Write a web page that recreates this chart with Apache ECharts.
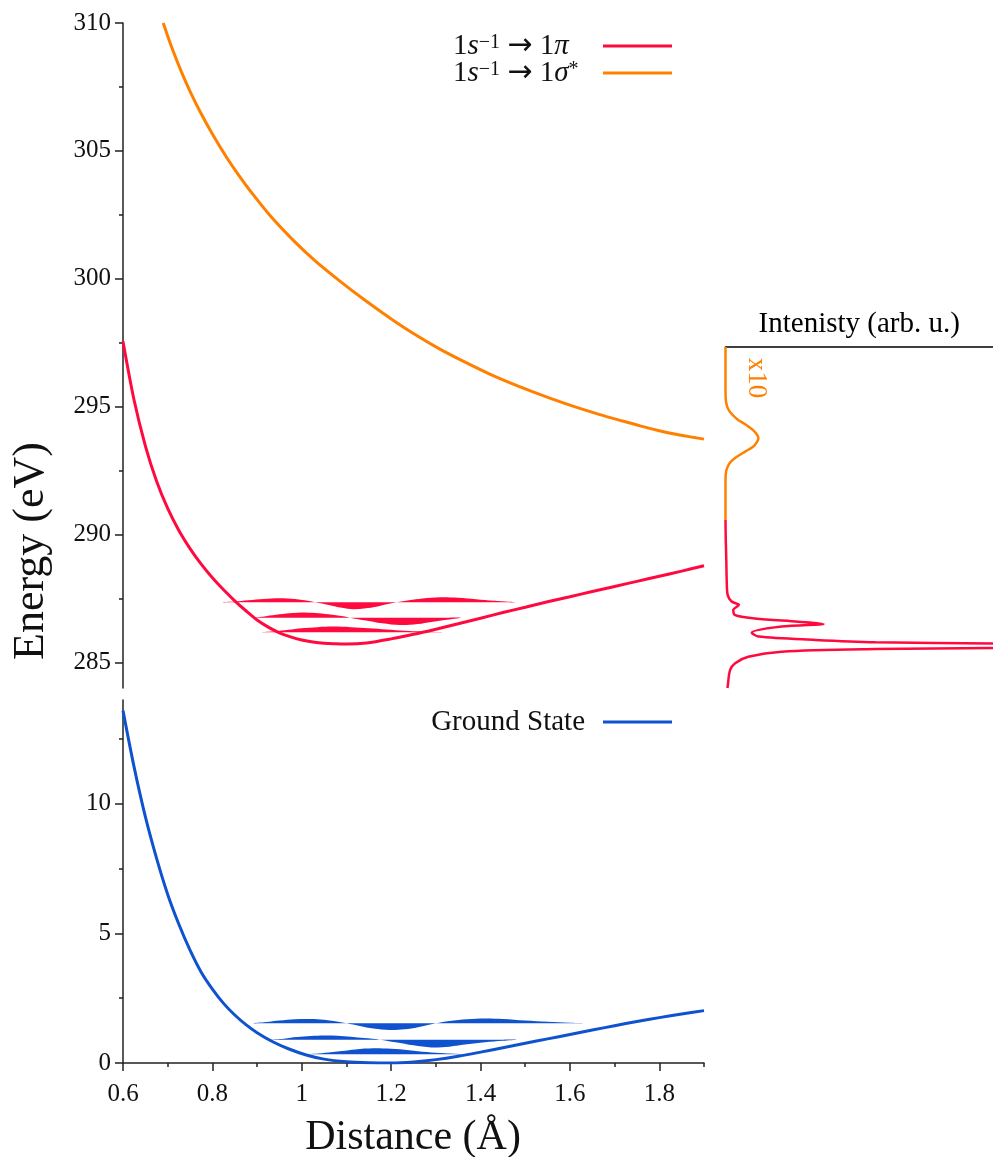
<!DOCTYPE html>
<html>
<head>
<meta charset="utf-8">
<script src="https://cdn.jsdelivr.net/npm/echarts@6/dist/echarts.min.js"></script>
<style>
html,body{margin:0;padding:0;background:#fff;}
#chart{width:993px;height:1157px;}
</style>
</head>
<body>
<div id="chart"></div>
<script>
// ---------- tick values ----------
const xTicks = [0.6, 0.8, 1.0, 1.2, 1.4, 1.6, 1.8];
const xMinorTicks = [0.7, 0.9, 1.1, 1.3, 1.5, 1.7, 1.9];
const yTopTicks = [285, 290, 295, 300, 305, 310];
const yTopMinorTicks = [287.5, 292.5, 297.5, 302.5, 307.5];
const yBotTicks = [0, 5, 10];
const yBotMinorTicks = [2.5, 7.5, 12.5];

// ---------- potential curves [distance, energy] ----------
const piCurve = [
  [0.600, 297.55], [0.625, 295.24], [0.650, 293.47], [0.675, 292.09], [0.700, 291.02],
  [0.725, 290.16], [0.750, 289.45], [0.775, 288.84], [0.800, 288.31], [0.825, 287.84],
  [0.850, 287.41], [0.875, 287.02], [0.900, 286.66], [0.925, 286.38], [0.950, 286.16],
  [0.975, 286.00], [1.000, 285.88], [1.025, 285.80], [1.050, 285.75], [1.075, 285.73],
  [1.100, 285.72], [1.145, 285.76], [1.200, 285.92], [1.250, 286.10], [1.300, 286.30],
  [1.350, 286.51], [1.400, 286.73], [1.450, 286.95], [1.500, 287.16], [1.550, 287.37],
  [1.600, 287.57], [1.650, 287.77], [1.700, 287.97], [1.750, 288.17], [1.800, 288.37],
  [1.850, 288.57], [1.900, 288.78]
];
const sigmaCurve = [
  [0.690, 310.00], [0.710, 309.00], [0.730, 308.12], [0.750, 307.33], [0.772, 306.55],
  [0.800, 305.66], [0.832, 304.74], [0.860, 304.02], [0.884, 303.45], [0.930, 302.45],
  [0.980, 301.52], [1.030, 300.70], [1.086, 299.90], [1.140, 299.18], [1.197, 298.47],
  [1.250, 297.86], [1.309, 297.25], [1.370, 296.70], [1.432, 296.18], [1.490, 295.76],
  [1.555, 295.33], [1.610, 295.00], [1.667, 294.69], [1.720, 294.43], [1.757, 294.25],
  [1.800, 294.06], [1.831, 293.94], [1.876, 293.80], [1.900, 293.73]
];
const groundCurve = [
  [0.600, 13.59], [0.625, 11.40], [0.650, 9.50], [0.675, 7.90], [0.700, 6.50],
  [0.725, 5.35], [0.750, 4.35], [0.775, 3.50], [0.800, 2.85], [0.825, 2.30],
  [0.850, 1.85], [0.875, 1.48], [0.900, 1.17], [0.935, 0.82], [0.970, 0.55],
  [1.010, 0.31], [1.050, 0.15], [1.100, 0.05], [1.150, 0.01], [1.200, 0.00],
  [1.250, 0.04], [1.300, 0.13], [1.350, 0.26], [1.400, 0.42], [1.450, 0.59],
  [1.500, 0.76], [1.550, 0.93], [1.600, 1.10], [1.650, 1.27], [1.700, 1.44],
  [1.750, 1.60], [1.800, 1.75], [1.850, 1.89], [1.900, 2.02]
];

// ---------- vibrational levels (baseline energies) ----------
const groundLevels = [0.335, 0.90, 1.53];
const piLevels = [286.18, 286.75, 287.35];

// ---------- wavefunctions [distance, amplitude above level] ----------
const groundPsi0 = [
  [1.000, 0.00], [1.030, 0.02], [1.060, 0.07], [1.090, 0.13], [1.120, 0.19], [1.160, 0.23],
  [1.200, 0.21], [1.240, 0.16], [1.280, 0.09], [1.320, 0.04], [1.360, 0.00]
];
const groundPsi1 = [
  [0.930, 0.00], [0.960, 0.04], [0.990, 0.10], [1.020, 0.14], [1.050, 0.16], [1.080, 0.15],
  [1.110, 0.11], [1.140, 0.06], [1.175, 0.00], [1.210, -0.10], [1.250, -0.22], [1.290, -0.30],
  [1.330, -0.27], [1.370, -0.18], [1.410, -0.10], [1.450, -0.04], [1.480, 0.00]
];
const groundPsi2 = [
  [0.890, 0.00], [0.920, 0.05], [0.950, 0.11], [0.985, 0.16], [1.020, 0.17], [1.050, 0.14],
  [1.075, 0.08], [1.100, 0.00], [1.130, -0.10], [1.160, -0.20], [1.197, -0.26], [1.230, -0.23],
  [1.260, -0.15], [1.300, 0.00], [1.330, 0.09], [1.370, 0.16], [1.410, 0.19], [1.450, 0.17],
  [1.500, 0.11], [1.550, 0.06], [1.600, 0.02], [1.640, 0.00]
];
const piPsi0 = [
  [0.910, 0.00], [0.940, 0.04], [0.970, 0.10], [1.000, 0.16], [1.035, 0.20], [1.070, 0.22],
  [1.110, 0.20], [1.150, 0.16], [1.190, 0.11], [1.230, 0.06], [1.270, 0.03], [1.320, 0.00]
];
const piPsi1 = [
  [0.890, 0.00], [0.920, 0.06], [0.950, 0.13], [0.980, 0.18], [1.000, 0.20], [1.030, 0.18],
  [1.060, 0.13], [1.085, 0.07], [1.108, 0.00], [1.140, -0.10], [1.180, -0.22], [1.220, -0.29],
  [1.260, -0.25], [1.290, -0.17], [1.320, -0.09], [1.355, 0.00]
];
const piPsi2 = [
  [0.820, 0.00], [0.850, 0.03], [0.880, 0.08], [0.915, 0.13], [0.950, 0.16], [0.985, 0.13],
  [1.010, 0.07], [1.030, 0.00], [1.060, -0.10], [1.090, -0.21], [1.115, -0.27], [1.140, -0.24],
  [1.170, -0.16], [1.190, -0.08], [1.212, 0.00], [1.240, 0.08], [1.270, 0.15], [1.310, 0.20],
  [1.350, 0.18], [1.390, 0.12], [1.430, 0.06], [1.480, 0.00]
];

// ---------- spectrum [intensity, energy] ----------
const spectrumSigma = [
  [0.000, 297.33], [0.000, 295.60], [0.002, 295.20], [0.008, 294.95], [0.020, 294.75],
  [0.045, 294.50], [0.075, 294.30], [0.103, 294.08], [0.118, 293.90], [0.123, 293.76],
  [0.118, 293.62], [0.103, 293.43], [0.075, 293.25], [0.045, 293.06], [0.020, 292.85],
  [0.008, 292.65], [0.002, 292.45], [0.000, 292.10], [0.000, 290.57]
];
const spectrumPi = [
  [0.000, 290.57], [0.001, 289.80], [0.003, 289.00], [0.0045, 288.22], [0.008, 287.64],
  [0.023, 287.38], [0.050, 287.25], [0.029, 287.05], [0.036, 286.85], [0.110, 286.72],
  [0.272, 286.59], [0.366, 286.50], [0.210, 286.40], [0.098, 286.16], [0.123, 286.01],
  [0.335, 285.88], [0.560, 285.79], [1.000, 285.74], [3.000, 285.65], [1.000, 285.56],
  [0.560, 285.52], [0.210, 285.42], [0.085, 285.22], [0.036, 284.97], [0.017, 284.70],
  [0.008, 284.05], [0.007, 284.00]
];

// ---------- styling ----------
const RED = '#ff0a3f';
const ORANGE = '#ff8000';
const BLUE = '#0f52cf';
const AXIS = '#222';
const FONT = 'Liberation Serif';

// filled wavefunction between its level and level + amplitude, drawn through the axes' scales
function waveSeries(id, pts, level, color, xi, yi) {
  return {
    type: 'custom', name: id, xAxisIndex: xi, yAxisIndex: yi, silent: true, z: 1,
    data: pts.map(p => [p[0], level + p[1]]),
    encode: { x: 0, y: 1 },
    renderItem: function (params, api) {
      if (params.dataIndex !== 0) return null;
      const upper = pts.map(p => api.coord([p[0], level + p[1]]));
      const lower = pts.slice(1, -1).reverse().map(p => api.coord([p[0], level]));
      return {
        type: 'polygon',
        shape: { points: upper.concat(lower), smooth: 0.35 },
        style: { fill: color }
      };
    }
  };
}

function mainY(grid, min, max, ticks) {
  return {
    type: 'value', gridIndex: grid, min: min, max: max, position: 'left',
    axisLine: { show: true, lineStyle: { color: AXIS, width: 1.5 } },
    axisTick: { show: true, customValues: ticks, length: 8, lineStyle: { color: AXIS, width: 1.5 } },
    axisLabel: { customValues: ticks, margin: 12, color: '#111', fontSize: 25, fontFamily: FONT },
    splitLine: { show: false }
  };
}
function minorY(grid, min, max, ticks) {
  return {
    type: 'value', gridIndex: grid, min: min, max: max, position: 'left', offset: 0,
    axisLine: { show: false },
    axisTick: { show: true, customValues: ticks, length: 4, lineStyle: { color: AXIS, width: 1.5 } },
    axisLabel: { show: false },
    splitLine: { show: false }
  };
}

const mathRich = {
  n: { fontFamily: FONT, fontSize: 29, color: '#111', lineHeight: 26, align: 'left' },
  i: { fontFamily: FONT, fontSize: 29, fontStyle: 'italic', color: '#111', lineHeight: 26, align: 'left' },
  s: { fontFamily: FONT, fontSize: 20, color: '#111', verticalAlign: 'top', lineHeight: 26, align: 'left' },
  a: { fontFamily: 'DejaVu Sans', fontSize: 30, color: '#111', lineHeight: 26, align: 'left' }
};
const legendLabels = {
  pi: '{n|1}{i|s}{s|\u22121}{n| }{a|\u2192}{n| 1}{i|\u03c0}',
  sigma: '{n|1}{i|s}{s|\u22121}{n| }{a|\u2192}{n| 1}{i|\u03c3}{s|*}'
};

const chart = echarts.init(document.getElementById('chart'), null, { renderer: 'canvas' });

const option = {
  animation: false,
  backgroundColor: '#fff',
  grid: [
    { left: 123, top: 23, width: 581, height: 665 },
    { left: 123, top: 700, width: 581, height: 363 },
    { left: 725.5, top: 347, width: 267.5, height: 341 }
  ],
  xAxis: [
    { type: 'value', gridIndex: 0, min: 0.6, max: 1.9, show: false },
    {
      type: 'value', gridIndex: 1, min: 0.6, max: 1.9, position: 'bottom',
      axisLine: { show: true, lineStyle: { color: AXIS, width: 1.5 } },
      axisTick: { show: true, customValues: xTicks, length: 8, lineStyle: { color: AXIS, width: 1.5 } },
      axisLabel: { customValues: xTicks, margin: 19, color: '#111', fontSize: 25, fontFamily: FONT },
      splitLine: { show: false }
    },
    {
      type: 'value', gridIndex: 1, min: 0.6, max: 1.9, position: 'bottom', offset: 0,
      axisLine: { show: false },
      axisTick: { show: true, customValues: xMinorTicks, length: 4, lineStyle: { color: AXIS, width: 1.5 } },
      axisLabel: { show: false }, splitLine: { show: false }
    },
    {
      type: 'value', gridIndex: 2, min: 0, max: 1, position: 'top',
      axisLine: { show: true, lineStyle: { color: '#000', width: 1.5 } },
      axisTick: { show: false }, axisLabel: { show: false }, splitLine: { show: false },
      name: 'Intenisty (arb. u.)', nameLocation: 'middle', nameGap: 8,
      nameTextStyle: { fontFamily: FONT, fontSize: 29, color: '#000' }
    }
  ],
  yAxis: [
    mainY(0, 284, 310, yTopTicks),
    minorY(0, 284, 310, yTopMinorTicks),
    mainY(1, 0, 14, yBotTicks),
    minorY(1, 0, 14, yBotMinorTicks),
    { type: 'value', gridIndex: 2, min: 284, max: 297.33, show: false }
  ],
  legend: [
    {
      data: ['pi', 'sigma'], orient: 'vertical', align: 'right', right: 316, top: 26,
      itemWidth: 69, itemHeight: 3, icon: 'rect', itemGap: -3, selectedMode: false,
      formatter: name => legendLabels[name],
      textStyle: { fontFamily: FONT, fontSize: 29, color: '#111', width: 145, lineHeight: 26, rich: mathRich }
    },
    {
      data: ['Ground State'], orient: 'vertical', align: 'right', right: 316, top: 702,
      itemWidth: 69, itemHeight: 3, icon: 'rect', selectedMode: false,
      textStyle: { fontFamily: FONT, fontSize: 29, color: '#111', lineHeight: 30, padding: [0, 13, 0, 0] }
    }
  ],
  graphic: [
    { type: 'text', x: 31, y: 551, rotation: Math.PI / 2,
      style: { text: 'Energy (eV)', fontFamily: FONT, fontSize: 44, fill: '#111', align: 'center', verticalAlign: 'middle' } },
    { type: 'text', x: 413, y: 1138,
      style: { text: 'Distance (\u00c5)', fontFamily: FONT, fontSize: 42, fill: '#111', align: 'center', verticalAlign: 'middle' } },
    { type: 'text', x: 756, y: 378, rotation: -Math.PI / 2,
      style: { text: 'x10', fontFamily: FONT, fontSize: 27, fill: ORANGE, align: 'center', verticalAlign: 'middle' } }
  ],
  series: [
    waveSeries('pi_v0', piPsi0, piLevels[0], RED, 0, 0),
    waveSeries('pi_v1', piPsi1, piLevels[1], RED, 0, 0),
    waveSeries('pi_v2', piPsi2, piLevels[2], RED, 0, 0),
    waveSeries('gs_v0', groundPsi0, groundLevels[0], BLUE, 1, 2),
    waveSeries('gs_v1', groundPsi1, groundLevels[1], BLUE, 1, 2),
    waveSeries('gs_v2', groundPsi2, groundLevels[2], BLUE, 1, 2),
    {
      name: 'pi', type: 'line', xAxisIndex: 0, yAxisIndex: 0, data: piCurve, smooth: 0.3,
      symbol: 'none', color: RED, itemStyle: { color: RED }, lineStyle: { color: RED, width: 3 }, z: 3
    },
    {
      name: 'sigma', type: 'line', xAxisIndex: 0, yAxisIndex: 0, data: sigmaCurve, smooth: 0.3,
      symbol: 'none', color: ORANGE, itemStyle: { color: ORANGE }, lineStyle: { color: ORANGE, width: 3 }, z: 3
    },
    {
      name: 'Ground State', type: 'line', xAxisIndex: 1, yAxisIndex: 2, data: groundCurve, smooth: 0.3,
      symbol: 'none', color: BLUE, itemStyle: { color: BLUE }, lineStyle: { color: BLUE, width: 3 }, z: 3
    },
    {
      name: 'spec_sigma', type: 'line', xAxisIndex: 3, yAxisIndex: 4, data: spectrumSigma, smooth: 0.3,
      symbol: 'none', lineStyle: { color: ORANGE, width: 2.5 }, clip: true, z: 3
    },
    {
      name: 'spec_pi', type: 'line', xAxisIndex: 3, yAxisIndex: 4, data: spectrumPi, smooth: 0.3,
      symbol: 'none', lineStyle: { color: RED, width: 2.5 }, clip: true, z: 3
    }
  ]
};
chart.setOption(option);
</script>
</body>
</html>
